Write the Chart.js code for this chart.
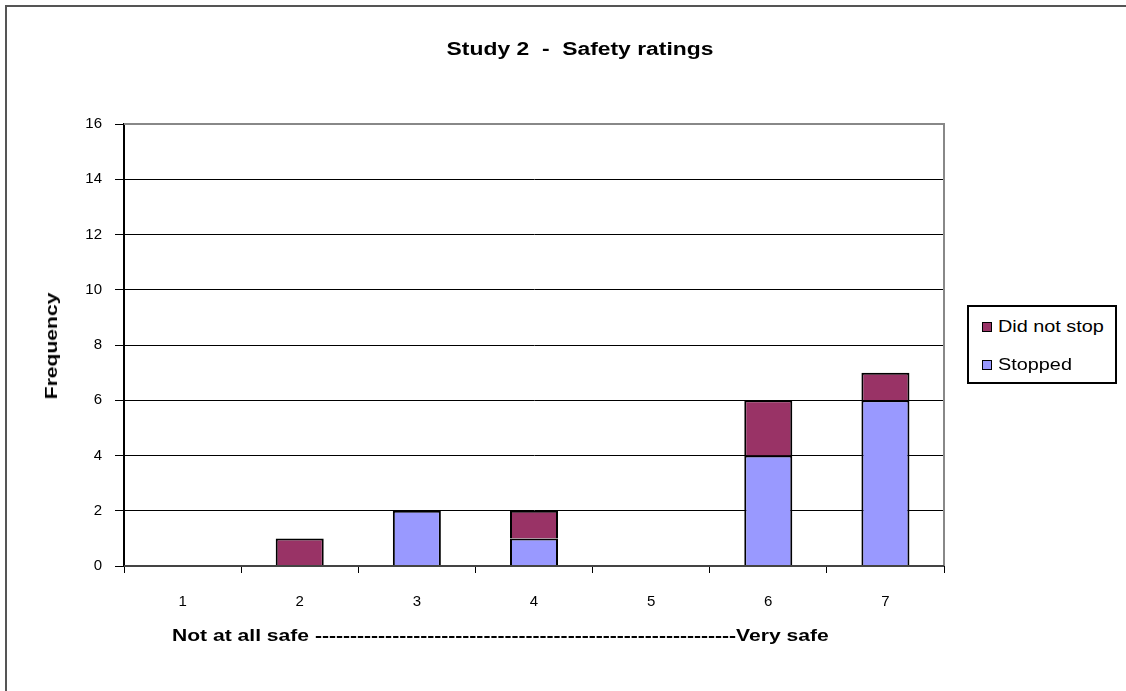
<!DOCTYPE html>
<html>
<head>
    <title>Study 2 - Safety ratings</title>
    <script src="https://cdn.jsdelivr.net/npm/chart.js"></script>
    <style>
        body {
            margin: 0;
            padding: 0;
            background: #ffffff;
            font-family: 'Liberation Sans', Arial, sans-serif;
        }
        #wrap {
            position: relative;
            width: 1126px;
            height: 691px;
            overflow: hidden;
        }
        #frame {
            position: absolute;
            left: 5px;
            top: 5px;
            width: 1130px;
            height: 700px;
            border: 2px solid #555;
        }
        canvas {
            position: absolute;
            left: 0;
            top: 0;
        }
        #title {
            position: absolute;
            top: 39px;
            left: 380px;
            width: 400px;
            text-align: center;
            font-weight: bold;
            font-size: 18px;
            white-space: pre;
            color: #000;
            transform: scaleX(1.27);
        }
        #xtitle {
            position: absolute;
            top: 626px;
            left: 172px;
            font-weight: bold;
            font-size: 17px;
            white-space: pre;
            color: #000;
            transform: scaleX(1.24);
            transform-origin: left center;
        }
        #ytitle {
            position: absolute;
            left: 52px;
            top: 346px;
            font-weight: bold;
            font-size: 17px;
            white-space: pre;
            color: #000;
            transform: translate(-50%, -50%) rotate(-90deg) scaleX(1.24);
        }
        #legend {
            position: absolute;
            left: 967px;
            top: 305px;
            width: 146px;
            height: 75px;
            border: 2px solid #000;
            background: #fff;
            font-size: 16px;
        }
        .item {
            position: absolute;
            left: 13px;
            height: 18px;
            line-height: 18px;
            white-space: pre;
        }
        .item span.sw {
            position: absolute;
            left: 0;
            top: 4px;
            width: 8px;
            height: 8px;
            border: 1px solid #000;
        }
        .item span.tx {
            position: absolute;
            left: 16px;
            top: 0;
            transform: scaleX(1.24);
            transform-origin: left center;
        }
    </style>
</head>
<body>
    <div id="wrap">
        <div id="frame"></div>
        <canvas id="chart" width="1126" height="691"></canvas>
        <div id="title">Study 2  -  Safety ratings</div>
        <div id="ytitle">Frequency</div>
        <div id="xtitle"></div>
        <div id="legend"></div>
    </div>

    <script>
        const ratings = ['1', '2', '3', '4', '5', '6', '7'];
        const stopped = [0, 0, 2, 1, 0, 4, 6];
        const didNotStop = [0, 1, 0, 1, 0, 2, 1];
        const yTicks = [0, 2, 4, 6, 8, 10, 12, 14, 16];
        const seriesNames = ['Stopped', 'Did not stop'];
        const seriesColors = ['#9999ff', '#993366'];
        const xAxisTitle = 'Not at all safe ' + '-'.repeat(60) + 'Very safe';

        document.getElementById('xtitle').textContent = xAxisTitle;

        // legend lists the top segment first, like the original
        const legendHtml = [1, 0].map((i, n) => `
            <div class="item" style="top:${11 + n * 38}px">
                <span class="sw" style="background:${seriesColors[i]}"></span><span class="tx">${seriesNames[i]}</span>
            </div>`).join('');
        document.getElementById('legend').innerHTML = legendHtml;

        const plotBorder = {
            id: 'plotBorder',
            afterDraw(chart) {
                const a = chart.chartArea;
                const ctx = chart.ctx;
                ctx.save();
                ctx.strokeStyle = '#888';
                ctx.lineWidth = 2;
                ctx.beginPath();
                ctx.moveTo(a.left, a.top);
                ctx.lineTo(a.right, a.top);
                ctx.lineTo(a.right, a.bottom);
                ctx.stroke();
                ctx.strokeStyle = '#444';
                ctx.beginPath();
                ctx.moveTo(a.left, a.bottom);
                ctx.lineTo(a.right, a.bottom);
                ctx.stroke();
                ctx.restore();
            }
        };

        const ctx = document.getElementById('chart').getContext('2d');
        new Chart(ctx, {
            type: 'bar',
            data: {
                labels: ratings,
                datasets: [
                    {
                        label: seriesNames[0],
                        data: stopped,
                        backgroundColor: seriesColors[0],
                        borderColor: '#000',
                        borderWidth: 2,
                        barPercentage: 0.41,
                        categoryPercentage: 1.0
                    },
                    {
                        label: seriesNames[1],
                        data: didNotStop,
                        backgroundColor: seriesColors[1],
                        borderColor: '#000',
                        borderWidth: 2,
                        barPercentage: 0.41,
                        categoryPercentage: 1.0
                    }
                ]
            },
            options: {
                responsive: false,
                animation: false,
                layout: { padding: { left: 30, top: 124, right: 182, bottom: 65 } },
                plugins: {
                    legend: { display: false },
                    title: { display: false },
                    tooltip: { enabled: false }
                },
                scales: {
                    x: {
                        stacked: true,
                        afterFit(scale) { scale.height = 60; },
                        grid: {
                            display: true,
                            drawOnChartArea: false,
                            color: '#000',
                            tickLength: 7,
                            offset: true
                        },
                        border: { display: false },
                        ticks: {
                            color: '#000',
                            padding: 20,
                            font: { family: "'Liberation Sans', Arial, sans-serif", size: 15 }
                        }
                    },
                    y: {
                        stacked: true,
                        min: 0,
                        max: 16,
                        afterFit(scale) { scale.width = 94; },
                        afterBuildTicks(scale) {
                            scale.ticks = yTicks.map(v => ({ value: v }));
                        },
                        grid: {
                            color: '#000',
                            lineWidth: 1,
                            tickLength: 9
                        },
                        border: { display: true, color: '#000', width: 2 },
                        ticks: {
                            color: '#000',
                            padding: 13,
                            font: { family: "'Liberation Sans', Arial, sans-serif", size: 15 }
                        }
                    }
                }
            },
            plugins: [plotBorder]
        });
    </script>
</body>
</html>
